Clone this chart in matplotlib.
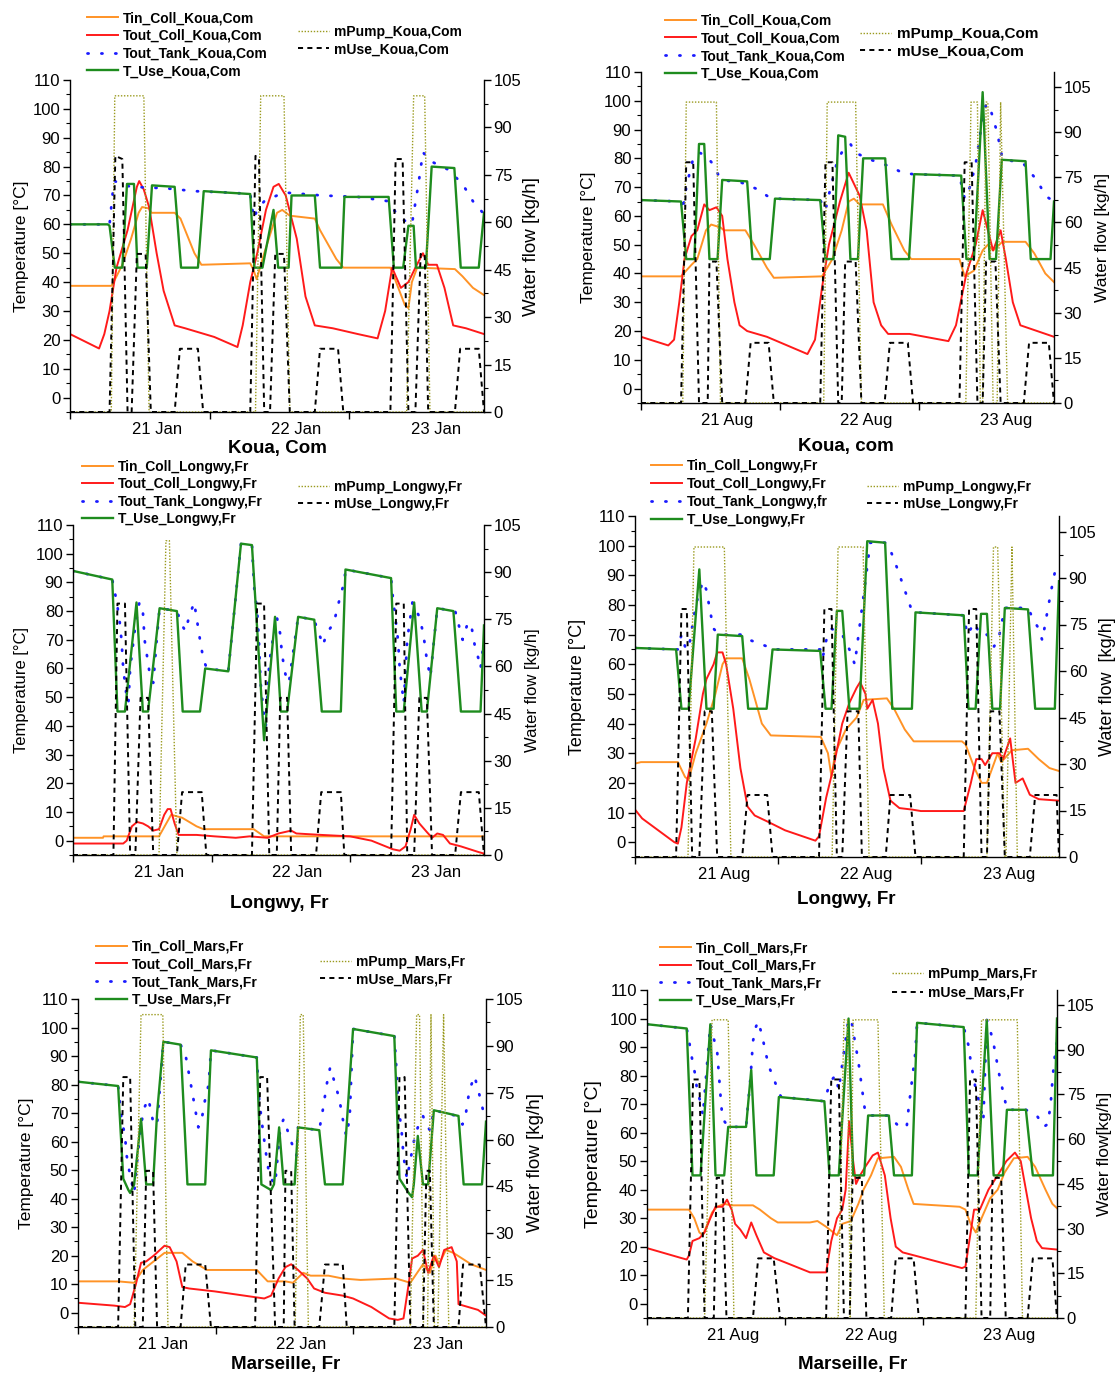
import matplotlib
matplotlib.use('Agg')
import matplotlib.pyplot as plt
from matplotlib.ticker import MultipleLocator, FixedLocator, NullFormatter, FixedFormatter

plt.rcParams['font.family'] = ['Liberation Sans', 'DejaVu Sans']

W, H = 1118, 1378

# ---------------- time axis (hours from start of plotted window) ----------------
TIME_END = 71.2
DAY_TICKS = [0, 24, 48]
LABEL_POS = [14.9, 38.9, 62.9]
JAN_LABELS = ['21 Jan', '22 Jan', '23 Jan']
AUG_LABELS = ['21 Aug', '22 Aug', '23 Aug']
TEMP_TICKS = list(range(0, 111, 10))
FLOW_TICKS = list(range(0, 106, 15))

# ---------------- Koua, Com (January) ----------------
koua_jan_tin = [(0,38.7),(7.1,38.7),(7.5,40),(9,46),(10.5,55),(11.8,64),(12.4,66),(13.6,65.5),(14,64),(18,64),(19,62),(21.4,50),(22.6,46),(31,46.5),(31.6,44),(32.1,41),(33.4,50),(35.6,64),(36.5,65),(37.8,63),(42.1,62),(43,58),(45.8,48),(47,45),(55.1,45),(55.7,42),(57.6,32),(58.2,31),(58.8,40),(59.7,45),(66.2,44.5),(67.5,42),(69.3,38),(71.2,35.5)]
koua_jan_tout = [(0,22),(5.0,17),(5.9,22),(6.8,30),(8.0,45),(9.9,58),(11.5,73),(11.9,75),(12.7,72),(13.6,66),(14.9,50),(16.1,37),(18.0,25),(19.8,24),(24.8,21),(28.8,17.5),(29.7,25),(31.0,40),(32.2,50),(33.7,65),(35.0,73),(35.9,74),(37.1,70),(39.0,55),(40.5,35),(42.1,25),(45.2,24),(49.5,22),(52.9,20.5),(54.2,30),(55.4,45),(56.9,38),(58.2,40),(59.4,45),(60.7,50),(61.6,46),(63.1,46),(64.4,38),(65.9,25),(68.1,24),(71.2,22)]
koua_jan_tank = [(0,60),(6.5,60),(6.8,60),(7.1,66),(7.4,72),(7.7,75),(8.6,74),(10.5,73),(16.4,72.5),(21.4,71.5),(27.5,71),(31.0,70.5),(31.6,62),(32.2,65),(33.4,68),(35.6,70),(37.1,71),(43.3,70),(49.5,69.5),(54.8,68),(55.7,65),(56.9,62),(58.8,60),(60.0,75),(60.7,85),(61.9,82),(65.0,79),(67.5,74),(69.3,68),(71.0,64)]
koua_jan_use = [(0,60),(6.5,60),(6.8,59.5),(7.7,45),(9.0,45),(9.8,74),(11.0,74),(11.6,45),(13.2,45),(14.1,73.5),(18.0,73),(19.1,45),(22.0,45),(23.0,71.5),(31.0,70.5),(31.7,45),(33.1,45),(35.0,65),(35.8,45),(37.6,45),(38.1,70),(42.1,70),(43.0,45),(46.7,45),(47.2,69.5),(54.8,69.5),(55.7,45),(57.3,45),(58.2,59.5),(59.1,59.5),(59.5,45),(61.2,45),(62.2,80),(66.1,79.5),(67.2,45),(70.3,45),(71.2,64)]
koua_jan_pump = [(0,0),(7.1,0),(7.7,100),(12.7,100),(13.6,0),(31.9,0),(32.8,100),(36.8,100),(37.8,0),(57.9,0),(59.1,100),(61.0,100),(61.9,0),(71.2,0)]
koua_jan_muse = [(0,0),(6.8,0),(7.8,81),(9.0,80),(9.9,0),(10.6,0),(11.5,50),(13.0,50),(13.9,0),(18.0,0),(18.9,20),(22.0,20),(22.9,0),(31.0,0),(31.9,81),(32.5,80),(33.4,0),(34.4,0),(35.3,50),(36.8,50),(37.8,0),(42.1,0),(43.0,20),(46.1,20),(47.0,0),(55.1,0),(56.0,80),(57.2,80),(58.2,0),(59.4,0),(60.3,50),(61.0,50),(61.6,0),(66.2,0),(67.1,20),(70.3,20),(71.2,0)]

# ---------------- Koua, com (August) ----------------
koua_aug_tin = [(0,39),(6.9,39),(8.7,43),(9.7,45),(11.2,55),(12.1,57),(13.7,56),(14.3,55),(18.0,55),(19.5,50),(21.7,42),(22.9,38.5),(31.2,39),(33.0,45),(34.6,55),(35.8,65),(36.7,66),(37.7,64),(41.7,64),(43.2,57),(45.4,48),(46.6,45),(54.9,45),(55.8,39),(57.4,41),(58.9,48),(59.8,50),(60.7,48),(62.3,51),(66.3,51),(67.8,47),(69.7,40),(71.2,37)]
koua_aug_tout = [(0,18),(4.7,15),(5.7,17),(6.6,30),(7.5,45),(8.7,53),(9.7,55),(10.9,64),(11.8,62),(13.0,63),(14.0,60),(14.9,45),(16.1,30),(17.0,22),(18.3,20),(21.7,18),(28.7,12),(30.0,17),(31.2,35),(32.4,50),(34.3,65),(35.8,75),(37.7,67),(38.9,55),(40.1,30),(41.4,22),(42.6,19),(46.3,19),(53.0,16.5),(54.3,22),(56.1,40),(57.7,50),(58.9,62),(59.8,55),(60.7,48),(62.0,55),(62.9,45),(64.1,30),(65.4,22),(71.2,18)]
koua_aug_tank = [(0,65.5),(6.9,65),(7.2,62),(7.8,70),(9.0,80),(10.0,82),(11.2,81),(12.4,78),(13.4,74),(14.0,72.5),(17.4,71.5),(20.4,69),(21.7,67),(23.1,66),(30.9,65.5),(31.8,62),(32.7,70),(33.7,78),(34.6,82),(36.1,85),(37.0,82),(38.9,80),(43.2,77),(45.0,75),(46.9,74.5),(54.9,74),(55.8,66),(56.7,70),(57.7,78),(58.6,90),(59.5,99),(60.4,96),(61.4,89),(62.3,80),(66.0,78),(68.4,72),(69.7,67),(71.2,65)]
koua_aug_use = [(0,65.5),(6.9,65),(7.8,45),(9.2,45),(10.0,85),(10.9,85),(11.8,45),(13.2,45),(14.0,72.5),(18.3,72),(19.2,45),(22.2,45),(23.1,66),(30.9,65.5),(31.8,45),(33.2,45),(34.0,88),(35.2,87.5),(36.1,45),(37.4,45),(38.3,80),(42.1,80),(43.2,45),(46.2,45),(47.1,74.5),(55.2,74),(56.1,45),(57.4,45),(58.9,103),(60.1,45),(61.2,45),(62.2,79.5),(66.3,79),(67.2,45),(70.6,45),(71.2,65)]
koua_aug_pump = [(0,0),(7.2,0),(7.8,100),(13.0,100),(13.7,0),(31.5,0),(32.1,100),(37.0,100),(38.0,0),(56.0,0),(56.9,100),(58.0,100),(58.5,0),(58.9,0),(59.5,100),(59.8,100),(60.7,0),(61.4,0),(62.0,100),(63.2,0),(71.2,0)]
koua_aug_muse = [(0,0),(6.9,0),(7.8,80),(9.0,80),(10.0,0),(11.5,0),(11.8,47),(13.0,47),(14.0,0),(18.0,0),(18.9,20),(22.0,20),(22.9,0),(30.9,0),(31.8,80),(33.0,80),(34.0,0),(34.6,0),(35.2,47),(37.0,47),(38.0,0),(42.0,0),(42.9,20),(46.0,20),(46.9,0),(54.9,0),(55.8,80),(57.0,80),(58.0,0),(58.9,0),(59.5,47),(61.1,47),(62.0,0),(66.0,0),(66.9,20),(70.3,20),(71.2,0)]

# ---------------- Longwy, Fr (January) ----------------
longwy_jan_tin = [(0,1),(5.2,1),(5.3,1.5),(14.9,1.5),(17.0,9),(18.9,8),(21.4,5),(22.6,4),(31.3,4),(33.1,1.5),(71.2,1.5)]
longwy_jan_tout = [(0,-1),(8.7,-1),(9.3,0),(10.2,5),(11.1,6.5),(12.1,6),(13.0,5),(13.9,3.5),(14.9,4),(15.8,9),(16.4,11),(16.9,11),(17.6,6),(18.3,2),(21.4,2),(24.5,1.5),(28.2,1),(30.6,1.5),(33.7,1),(35.6,2.5),(37.8,3.5),(38.7,2.5),(43.0,2),(48.0,1.5),(51.7,0),(55.4,-3),(56.6,-3.5),(57.6,-2),(58.5,4),(59.1,9),(60.0,6),(61.3,3),(62.2,1),(63.1,2.5),(64.1,2),(65.3,-1),(67.2,-2),(70.3,-4),(71.2,-4.5)]
longwy_jan_tank = [(0,94),(6.8,91),(7.4,85),(8.0,78),(8.4,70),(8.7,60),(9.3,50),(9.6,48),(9.9,60),(10.8,75),(11.5,83),(12.1,80),(12.4,70),(13.3,58),(13.9,55),(14.5,70),(15.0,81),(18.0,80),(18.9,75),(19.5,73),(20.1,78),(21.0,83),(22.0,70),(22.6,63),(23.2,60),(26.9,59),(29.1,103.5),(31.0,103),(31.4,88),(31.9,80),(32.2,70),(32.5,55),(33.1,43),(33.4,40),(34.0,62),(35.0,75),(35.3,78),(35.9,72),(36.2,65),(36.8,58),(37.4,55),(39.0,78),(41.8,77),(42.1,75),(43.0,70),(43.3,68),(43.9,72),(45.2,76),(46.4,86),(47.0,90),(47.2,94.5),(55.1,91.5),(55.4,85),(55.7,80),(56.3,70),(56.6,60),(57.3,48),(57.9,70),(58.8,83),(60.0,78),(60.7,72),(61.3,63),(61.9,57),(63.1,81),(66.2,80),(66.5,78),(67.2,72),(67.5,70),(68.4,76),(69.0,75),(69.6,68),(70.3,63),(70.6,60),(70.9,65),(71.2,70)]
longwy_jan_use = [(0,94),(6.8,91),(7.7,45),(9.0,45),(11.0,83),(12.1,45),(13.0,45),(15.0,81),(18.0,80),(19.0,45),(22.0,45),(22.9,60),(26.9,59),(29.1,103.5),(31.0,103),(33.1,35),(35.0,78),(36.0,45),(37.1,45),(39.0,78),(41.8,77),(43.1,45),(46.4,45),(47.2,94.5),(55.1,91.5),(56.0,45),(57.3,45),(59.1,83),(60.4,45),(61.3,45),(63.1,81),(65.9,80),(67.2,45),(70.6,45),(71.2,75)]
longwy_jan_pump = [(0,0),(14.9,0),(16.1,100),(16.7,100),(18.0,0),(71.2,0)]
longwy_jan_muse = [(0,0),(7.0,0),(7.7,80),(9.0,80),(9.9,0),(10.8,0),(11.7,50),(13.0,50),(13.9,0),(18.0,0),(18.9,20),(22.3,20),(23.1,0),(31.0,0),(31.9,80),(33.1,80),(34.0,0),(35.3,0),(35.9,50),(37.1,50),(37.8,0),(42.1,0),(43.0,20),(46.4,20),(47.0,0),(55.1,0),(56.0,80),(57.3,80),(57.9,0),(59.1,0),(60.0,50),(61.3,50),(62.2,0),(66.2,0),(67.2,20),(70.3,20),(71.2,0)]

# ---------------- Longwy, Fr (August) ----------------
longwy_aug_tin = [(0,26.5),(1.0,27),(7.2,27),(8.4,22),(9.0,21),(10.2,30),(12.0,40),(13.5,50),(14.7,60),(15.3,62),(18.0,62),(19.2,55),(21.3,40),(22.8,36),(31.2,35.5),(32.4,30),(33.0,22),(33.6,30),(35.4,38),(37.2,42),(38.4,48),(42.3,48.5),(43.5,45),(45.3,38),(46.8,34),(54.9,34),(55.5,33),(57.0,25),(58.2,20),(59.1,20),(60.0,25),(60.9,30),(61.5,27),(63.3,31),(66.0,31.5),(67.8,28),(69.6,25),(71.2,24)]
longwy_aug_tout = [(0,11),(1.2,8),(6.6,0),(7.2,-0.5),(7.8,5),(8.7,20),(10.2,35),(11.4,50),(12.0,55),(13.2,60),(13.8,64),(14.7,64),(15.3,60),(16.5,45),(17.7,25),(18.9,12),(20.1,9),(22.2,7),(25.2,4),(30.3,0.5),(30.9,2),(32.1,15),(33.3,25),(34.8,40),(36.0,47),(37.2,52),(37.8,54),(38.7,50),(39.0,45),(39.9,48),(40.8,40),(41.7,25),(42.9,14),(44.4,11.5),(46.5,11),(48.0,10.5),(55.2,10.5),(56.4,20),(57.3,28),(58.2,28),(58.8,26),(60.0,30),(61.2,30),(61.8,28),(63.0,35),(63.9,20),(65.1,21.5),(66.3,16),(67.8,14.5),(71.2,14)]
longwy_aug_tank = [(0,65.5),(6.9,65),(7.2,65),(7.8,70),(8.4,66),(9.0,65),(10.2,80),(11.4,88),(12.0,85),(12.6,78),(13.2,72),(14.1,70),(18.0,70),(19.5,68),(22.2,66),(23.1,65),(31.1,65),(31.5,62),(32.1,68),(33.0,72),(34.8,70),(36.0,65),(36.9,60),(38.5,85),(39.5,101),(42.0,101),(42.6,100),(44.1,92),(45.3,85),(46.5,78),(47.1,77.5),(55.2,76.5),(55.8,70),(57.0,74),(57.9,70),(59.1,70),(59.7,68),(60.3,66),(61.2,70),(62.1,79),(66.0,79),(66.9,75),(67.8,72),(68.4,68),(69.0,75),(69.9,85),(70.5,91),(71.2,92)]
longwy_aug_use = [(0,65.5),(6.9,65),(7.8,45),(9.0,45),(10.8,92),(12.0,45),(13.2,45),(13.9,70),(18.0,69.5),(19.0,45),(22.1,45),(23.1,65),(31.1,64.5),(32.0,45),(33.0,45),(33.9,78),(34.8,78),(36.0,45),(37.7,45),(39.0,101.5),(42.0,101),(43.2,45),(46.5,45),(47.1,77.5),(55.2,76.5),(56.0,45),(57.2,45),(58.1,77),(59.1,77),(60.0,45),(61.3,45),(62.1,79),(66.0,78.5),(67.2,45),(70.5,45),(71.2,88)]
longwy_aug_pump = [(0,0),(8.9,0),(9.9,100),(15.0,100),(16.1,0),(33.1,0),(34.1,100),(38.3,100),(39.3,0),(59.1,0),(60.2,100),(60.9,100),(62.1,0),(62.3,0),(63.3,100),(64.2,0),(71.2,0)]
longwy_aug_muse = [(0,0),(6.9,0),(7.8,80),(8.7,80),(9.6,0),(10.8,0),(11.7,47),(12.9,47),(13.8,0),(18.0,0),(18.9,20),(22.2,20),(23.1,0),(30.9,0),(31.8,80),(33.0,80),(33.9,0),(34.8,0),(35.7,47),(37.5,47),(38.1,0),(42.1,0),(42.9,20),(46.2,20),(47.1,0),(55.2,0),(56.1,80),(57.3,80),(58.2,0),(59.1,0),(59.7,47),(61.2,47),(62.1,0),(66.3,0),(67.2,20),(70.8,20),(71.2,0)]

# ---------------- Marseille, Fr (January) ----------------
mars_jan_tin = [(0,11),(7.0,11),(9.8,10.5),(11.3,15),(13.2,18),(15.1,21),(18.2,21),(20.0,18),(22.5,15),(31.2,15),(33.1,11),(36.2,11),(37.5,10.5),(39.3,14),(40.6,13),(43.7,13),(46.2,12),(49.3,11.5),(55.5,12),(58.0,10.5),(60.2,17),(61.4,14),(62.4,20),(63.0,17),(64.2,22),(65.5,21),(68.6,17),(71.2,15)]
mars_jan_tout = [(0,3.5),(6.3,2.5),(8.2,2),(9.1,3),(10.1,10),(11.0,17.5),(11.9,18),(13.2,20),(15.1,23.5),(16.0,23),(17.2,18),(18.2,9),(19.4,8.5),(23.8,7.5),(32.5,5),(33.7,6),(35.0,12),(36.2,16),(37.2,17),(38.4,15),(40.0,12),(41.2,8.5),(43.1,7),(46.2,6),(48.0,5),(51.2,2),(54.3,-2),(55.8,-2.5),(56.8,-2),(57.7,10),(58.3,19),(59.3,20),(60.2,22),(61.1,14),(62.1,20),(63.0,16),(63.9,22),(65.2,23),(66.1,18),(66.4,3),(69.8,1),(71.2,-1)]
mars_jan_tank = [(0,81),(7.0,79.5),(7.6,68),(8.2,62),(8.5,55),(9.1,48),(9.8,42),(10.4,55),(11.0,66),(11.6,72),(12.3,75),(12.6,72),(13.2,66),(13.8,66),(14.9,95),(17.9,94),(18.8,90),(19.7,80),(20.4,72),(21.0,65),(21.6,68),(22.2,75),(22.8,80),(23.2,92),(31.2,89.5),(31.6,75),(32.2,65),(32.8,56),(33.4,48),(34.4,45),(35.3,65),(35.9,68),(37.2,60),(38.1,55),(38.4,65),(42.1,64),(42.8,72),(43.4,80),(44.0,86),(44.9,80),(45.6,75),(46.2,68),(46.8,62),(47.4,68),(48.0,99.5),(55.2,97),(55.5,88),(55.8,75),(56.5,63),(56.8,55),(57.4,47),(58.6,60),(59.3,65),(60.2,69),(60.8,66),(61.4,64),(62.1,71),(66.1,69),(67.1,66),(67.7,70),(68.3,78),(69.2,83),(70.1,76),(70.8,70),(71.2,68)]
mars_jan_use = [(0,81),(7.0,79.5),(7.9,47),(8.8,43),(9.1,42),(9.8,45),(11.0,68),(11.9,45),(13.1,45),(13.8,70),(14.9,95),(17.9,94),(19.1,45),(22.2,45),(23.2,92),(31.2,89.5),(32.0,45),(33.7,43),(34.2,45),(35.1,65),(35.9,45),(37.8,45),(38.4,65),(42.1,64),(43.1,45),(46.2,45),(48.0,99.5),(55.2,97),(56.1,47),(57.7,42),(58.3,40.5),(58.6,45),(59.3,62),(60.2,45),(61.1,45),(62.1,71),(66.4,69),(67.3,45),(70.5,45),(71.2,67)]
mars_jan_pump = [(0,0),(9.8,0),(11.0,100),(14.8,100),(15.7,0),(37.9,0),(38.8,100),(39.3,100),(40.2,0),(58.0,0),(59.1,100),(59.6,100),(60.3,0),(61.0,0),(61.6,100),(62.2,0),(62.8,0),(63.8,100),(64.7,0),(71.2,0)]
mars_jan_muse = [(0,0),(7.0,0),(7.9,80),(9.1,80),(10.0,0),(11.3,0),(11.9,50),(13.1,50),(13.8,0),(17.9,0),(18.8,20),(22.2,20),(23.2,0),(30.9,0),(31.8,80),(33.0,80),(34.4,0),(35.9,0),(36.2,50),(37.2,50),(37.8,0),(42.1,0),(43.1,20),(46.2,20),(46.9,0),(55.2,0),(56.1,80),(57.0,80),(58.0,0),(60.2,0),(60.8,50),(61.4,50),(62.1,0),(66.4,0),(67.2,20),(70.1,20),(71.2,0)]

# ---------------- Marseille, Fr (August) ----------------
mars_aug_tin = [(0,33),(7.3,33),(8.2,30),(9.1,25),(9.7,24),(10.3,27),(11.3,32),(12.2,34),(13.4,35),(14.7,34.5),(18.4,34.5),(19.6,33),(21.5,30),(22.7,28.5),(28.3,28.5),(29.6,29),(31.1,27),(33.0,24),(33.9,28),(35.4,29),(36.7,35),(37.6,40),(38.9,45),(40.1,51),(42.9,51.5),(44.1,48),(45.4,40),(46.3,35),(54.3,34),(55.3,33),(56.2,28),(57.1,25),(58.1,30),(59.6,37),(60.9,40),(62.1,46),(63.7,51),(66.1,51.5),(67.4,48),(69.2,40),(70.4,35),(71.2,33.5)]
mars_aug_tout = [(0,19.5),(6.0,16),(6.9,15.5),(7.3,17),(7.9,22),(9.1,23),(10.0,25),(11.0,30),(11.9,34),(13.1,34),(13.9,36.5),(14.7,33),(15.3,28),(16.2,26),(17.2,23),(18.1,28.5),(19.0,24),(20.3,18),(22.1,16),(24.6,14),(28.3,11),(31.1,11),(32.0,22),(33.0,30),(33.9,33),(34.5,40),(35.1,64),(35.8,50),(36.3,42),(37.0,45),(37.9,48),(39.2,52),(40.1,53),(41.3,45),(42.3,30),(43.2,20),(44.4,18),(46.3,17),(50.0,15),(54.7,12.5),(55.3,13),(56.2,25),(56.8,33),(57.8,33),(59.3,40),(60.9,45),(62.4,50),(63.9,53),(64.9,50),(65.8,40),(66.7,30),(67.7,22),(68.6,19.5),(71.2,19)]
mars_aug_tank = [(0,98),(6.9,96.5),(7.4,91),(7.9,85),(8.4,80),(8.8,73),(9.1,72),(9.4,70),(9.7,66),(11.0,98),(11.6,93),(12.2,88),(12.5,80),(12.8,72),(13.1,65),(14.1,62),(17.2,62),(18.0,80),(18.4,92),(18.9,97),(19.3,99),(20.0,94),(20.6,88),(21.2,83),(22.0,79),(22.9,74),(23.3,72.5),(30.8,71),(31.4,75),(31.9,78),(32.7,80),(33.3,75),(35.0,100),(35.6,98),(36.1,92),(36.7,85),(37.3,76),(37.9,67),(38.5,66),(42.0,66),(43.8,62),(45.1,62),(45.4,68),(46.0,78),(46.6,88),(46.9,98.5),(55.0,97),(55.9,90),(56.2,85),(57.1,75),(57.8,70),(58.4,64),(59.0,99.5),(59.3,98),(59.6,96),(60.2,91),(61.2,80),(62.1,72),(62.5,68),(65.8,68),(67.7,66),(68.9,62),(69.6,63),(70.1,70),(70.4,78),(70.7,85),(71.2,92)]
mars_aug_use = [(0,98),(6.9,96.5),(7.9,45),(9.3,45),(11.0,98),(11.9,45),(13.4,45),(14.1,62),(17.2,62),(18.1,82),(19.0,45),(22.0,45),(22.9,72.5),(30.8,71),(31.7,45),(33.3,45),(35.0,100),(35.8,45),(37.7,45),(38.4,66),(42.0,66),(42.9,45),(46.0,45),(46.9,98.5),(55.0,97),(55.9,45),(57.4,45),(59.0,99.5),(60.2,45),(61.8,45),(62.5,68),(65.8,68),(67.0,45),(70.5,45),(71.2,100)]
mars_aug_pump = [(0,0),(10.0,0),(11.3,100),(14.1,100),(15.1,0),(33.2,0),(34.2,100),(34.8,100),(35.3,0),(35.8,100),(40.1,100),(41.2,0),(57.1,0),(58.1,100),(64.3,100),(65.2,0),(71.2,0)]
mars_aug_muse = [(0,0),(7.1,0),(8.0,80),(9.1,80),(10.0,0),(11.6,0),(12.1,47),(13.1,47),(13.8,0),(18.4,0),(19.3,20),(22.0,20),(23.1,0),(31.1,0),(32.0,80),(33.3,80),(34.2,0),(35.2,0),(35.7,47),(37.3,47),(38.1,0),(42.4,0),(43.2,20),(46.3,20),(47.2,0),(55.3,0),(56.1,80),(57.1,80),(58.1,0),(59.6,0),(60.0,47),(61.5,47),(62.3,0),(66.1,0),(67.0,20),(70.4,20),(71.2,0)]

# ---------------- series labels ----------------
koua_names = ['Tin_Coll_Koua,Com', 'Tout_Coll_Koua,Com', 'Tout_Tank_Koua,Com', 'T_Use_Koua,Com', 'mPump_Koua,Com', 'mUse_Koua,Com']
longwy_jan_names = ['Tin_Coll_Longwy,Fr', 'Tout_Coll_Longwy,Fr', 'Tout_Tank_Longwy,Fr', 'T_Use_Longwy,Fr', 'mPump_Longwy,Fr', 'mUse_Longwy,Fr']
longwy_aug_names = ['Tin_Coll_Longwy,Fr', 'Tout_Coll_Longwy,Fr', 'Tout_Tank_Longwy,fr', 'T_Use_Longwy,Fr', 'mPump_Longwy,Fr', 'mUse_Longwy,Fr']
mars_names = ['Tin_Coll_Mars,Fr', 'Tout_Coll_Mars,Fr', 'Tout_Tank_Mars,Fr', 'T_Use_Mars,Fr', 'mPump_Mars,Fr', 'mUse_Mars,Fr']

# ---------------- styles ----------------
STYLES = [
    dict(color='#FF9326', lw=1.4, ls='-'),
    dict(color='#FF1A1A', lw=1.4, ls='-'),
    dict(color='#1A1AFF', lw=2.0, ls=(0, (0.4, 4.6)), dash_capstyle='round'),
    dict(color='#1E8C1E', lw=1.7, ls='-'),
    dict(color='#9A9A1E', lw=1.0, ls=(0, (1, 1.2))),
    dict(color='black', lw=1.4, ls=(0, (2.6, 2.2))),
]

panels = [
    dict(box=(70, 484, 80, 412), data=[koua_jan_tin, koua_jan_tout, koua_jan_tank, koua_jan_use, koua_jan_pump, koua_jan_muse],
         names=koua_names, dates=JAN_LABELS, title='Koua, Com', title_pos=(277, 448), rtop=105,
         leg1=(87, 18.3, 10, 17.8), leg2=(298, 31.7, 10, 17.6), ylab=(22, 12.5), rlab=(531, 13.5), rtext='Water flow [kg/h]'),
    dict(box=(641, 1054, 72, 403), data=[koua_aug_tin, koua_aug_tout, koua_aug_tank, koua_aug_use, koua_aug_pump, koua_aug_muse],
         names=koua_names, dates=AUG_LABELS, title='Koua, com', title_pos=(846, 446), rtop=110,
         leg1=(665, 20.7, 10, 17.8), leg2=(860, 35, 11, 18.3), ylab=(589, 12.5), rlab=(1102, 12.5), rtext='Water flow [kg/h]'),
    dict(box=(73, 484, 525, 855), data=[longwy_jan_tin, longwy_jan_tout, longwy_jan_tank, longwy_jan_use, longwy_jan_pump, longwy_jan_muse],
         names=longwy_jan_names, dates=JAN_LABELS, title='Longwy, Fr', title_pos=(279, 903), rtop=105,
         leg1=(82, 466.7, 10, 17.6), leg2=(298, 486.7, 10, 17.6), ylab=(22, 12), rlab=(533, 12), rtext='Water flow [kg/h]'),
    dict(box=(635, 1059, 516, 857), data=[longwy_aug_tin, longwy_aug_tout, longwy_aug_tank, longwy_aug_use, longwy_aug_pump, longwy_aug_muse],
         names=longwy_aug_names, dates=AUG_LABELS, title='Longwy, Fr', title_pos=(846, 900), rtop=110,
         leg1=(651, 466, 10, 18.2), leg2=(867, 486.7, 10, 17.6), ylab=(578, 13), rlab=(1108, 13), rtext='Water flow  [kg/h]'),
    dict(box=(78, 486, 999, 1327), data=[mars_jan_tin, mars_jan_tout, mars_jan_tank, mars_jan_use, mars_jan_pump, mars_jan_muse],
         names=mars_names, dates=JAN_LABELS, title='Marseille, Fr', title_pos=(286, 1365), rtop=105,
         leg1=(96, 946.7, 10, 17.8), leg2=(320, 961.7, 10, 17.6), ylab=(27, 12.5), rlab=(535, 13.5), rtext='Water flow [kg/h]'),
    dict(box=(647, 1057, 990, 1318), data=[mars_aug_tin, mars_aug_tout, mars_aug_tank, mars_aug_use, mars_aug_pump, mars_aug_muse],
         names=mars_names, dates=AUG_LABELS, title='Marseille, Fr', title_pos=(853, 1365), rtop=110,
         leg1=(660, 948.3, 10, 17.5), leg2=(892, 974.3, 10, 18.3), ylab=(594, 14), rlab=(1105, 12.5), rtext='Water flow[kg/h]'),
]

fig = plt.figure(figsize=(W / 100, H / 100), dpi=100)


def unzip(series):
    return [p[0] for p in series], [p[1] for p in series]


def make_legend(axis, handles, labels, x, yc, fs, pitch_px):
    fs_px = fs * 100 / 72
    text_h = 1.015 * fs_px          # measured legend text row height in px
    spacing = max(pitch_px - text_h, 0) / fs_px
    leg = axis.legend(handles, labels, loc='upper left',
                      bbox_to_anchor=(x / W, 1 - (yc - text_h / 2) / H),
                      bbox_transform=fig.transFigure, frameon=False,
                      borderpad=0, borderaxespad=0, handlelength=31 / fs_px,
                      handletextpad=0.36, labelspacing=spacing,
                      prop=dict(family='Liberation Sans', weight='bold', size=fs))
    return leg


for p in panels:
    L, R, T, B = p['box']
    ax = fig.add_axes([L / W, 1 - B / H, (R - L) / W, (B - T) / H])
    ax2 = ax.twinx()
    lines = []
    for i in range(4):
        t, v = unzip(p['data'][i])
        ln, = ax.plot(t, v, label=p['names'][i], **STYLES[i])
        lines.append(ln)
    for i in range(4, 6):
        t, v = unzip(p['data'][i])
        ln, = ax2.plot(t, v, label=p['names'][i], **STYLES[i])
        lines.append(ln)

    ax.set_xlim(0, TIME_END)
    ax.set_ylim(-5, 110)
    ax2.set_ylim(0, p['rtop'])

    for a in (ax, ax2):
        a.spines['top'].set_visible(False)
    ax.spines['right'].set_visible(False)
    ax2.spines['left'].set_visible(False)
    ax2.spines['bottom'].set_visible(False)
    for a in (ax, ax2):
        for s in a.spines.values():
            s.set_linewidth(1.0)

    ax.yaxis.set_major_locator(FixedLocator(TEMP_TICKS))
    ax.yaxis.set_minor_locator(MultipleLocator(5))
    ax2.yaxis.set_major_locator(FixedLocator(FLOW_TICKS))
    ax2.yaxis.set_minor_locator(FixedLocator([7.5 + 15 * k for k in range(7)]))

    ax.xaxis.set_major_locator(FixedLocator(DAY_TICKS))
    ax.xaxis.set_major_formatter(NullFormatter())
    ax.xaxis.set_minor_locator(FixedLocator(LABEL_POS))
    ax.xaxis.set_minor_formatter(FixedFormatter(p['dates']))

    ax.tick_params(axis='y', which='major', direction='out', length=5, width=1, labelsize=12, pad=2)
    ax.tick_params(axis='y', which='minor', direction='out', length=3, width=0.8)
    ax2.tick_params(axis='y', which='major', direction='out', length=5, width=1, labelsize=12, pad=2)
    ax2.tick_params(axis='y', which='minor', direction='out', length=3, width=0.8)
    ax.tick_params(axis='x', which='major', direction='out', length=5, width=1)
    ax.tick_params(axis='x', which='minor', length=0, labelsize=12, pad=7)

    make_legend(ax, lines[:4], p['names'][:4], *p['leg1'])
    make_legend(ax2, lines[4:], p['names'][4:], *p['leg2'])

    yc = (T + B) / 2
    fig.text(p['ylab'][0] / W, 1 - yc / H, 'Temperature [°C]', rotation=90,
             ha='center', va='center', fontsize=p['ylab'][1])
    fig.text(p['rlab'][0] / W, 1 - yc / H, p['rtext'], rotation=90,
             ha='center', va='center', fontsize=p['rlab'][1])
    fig.text(p['title_pos'][0] / W, 1 - p['title_pos'][1] / H, p['title'],
             ha='center', va='center', fontsize=13.5, fontweight='bold')

fig.savefig('out.png', dpi=100)
